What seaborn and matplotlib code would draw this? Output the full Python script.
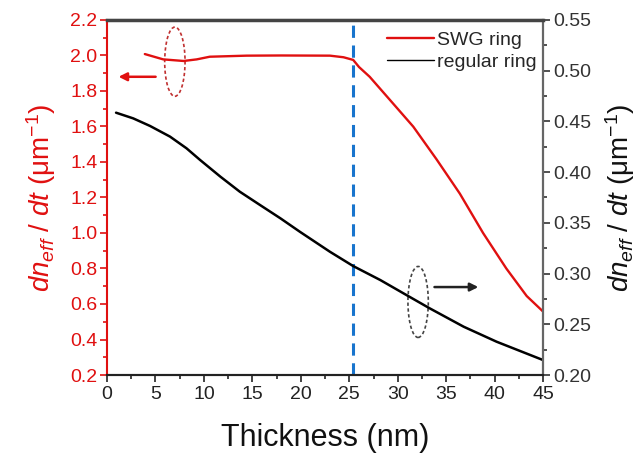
import numpy as np
import pandas as pd
import matplotlib
matplotlib.use("Agg")
import matplotlib.pyplot as plt
import seaborn as sns
from matplotlib.patches import Ellipse
from matplotlib.ticker import MultipleLocator, FormatStrFormatter

sns.set_theme(style="white")
plt.rcParams['font.family'] = ['Liberation Sans', 'DejaVu Sans']
plt.rcParams['mathtext.fontset'] = 'custom'
plt.rcParams['mathtext.rm'] = 'Liberation Sans'
plt.rcParams['mathtext.it'] = 'Liberation Sans:italic'

# SWG ring (left axis)
swg_x = [3.9, 5.8, 7.9, 9.25, 10.6, 14.4, 18.0, 23.0, 24.4, 25.4, 26.0, 27.1,
         29.2, 31.6, 34.0, 36.4, 38.8, 41.2, 43.3, 45.0]
swg_y = [2.008, 1.978, 1.969, 1.978, 1.993, 1.999, 2.0, 1.999, 1.99, 1.975, 1.935, 1.88,
         1.749, 1.599, 1.415, 1.222, 1.0, 0.80, 0.645, 0.557]
# regular ring (right axis)
reg_x = [0.93, 2.7, 4.44, 6.5, 8.2, 9.6, 11.7, 13.7, 15.8, 17.9, 19.9, 23.0,
         25.4, 28.2, 30.9, 33.3, 36.8, 40.2, 43.7, 45.0]
reg_y = [0.4586, 0.453, 0.4455, 0.435, 0.4235, 0.412, 0.3955, 0.3807, 0.3675, 0.3544,
         0.3412, 0.3215, 0.3074, 0.2936, 0.2788, 0.2657, 0.2476, 0.2328, 0.2196, 0.2147]

red = '#e01010'
fig = plt.figure(figsize=(6.39, 4.54), dpi=100)
ax = fig.add_axes([0.1675, 0.174, 0.6825, 0.782])
ax2 = ax.twinx()

df1 = pd.DataFrame({'x': swg_x, 'y': swg_y})
df2 = pd.DataFrame({'x': reg_x, 'y': reg_y})
sns.lineplot(data=df1, x='x', y='y', ax=ax, color=red, lw=1.7, label='SWG ring', legend=False)
sns.lineplot(data=df2, x='x', y='y', ax=ax2, color='black', lw=1.8, label='regular ring', legend=False)

ax.set_xlim(0, 45)
ax.set_ylim(0.2, 2.2)
ax2.set_ylim(0.20, 0.55)
ax.xaxis.set_major_locator(MultipleLocator(5))
ax.xaxis.set_minor_locator(MultipleLocator(2.5))
ax.yaxis.set_major_locator(MultipleLocator(0.2))
ax.yaxis.set_minor_locator(MultipleLocator(0.1))
ax2.yaxis.set_major_locator(MultipleLocator(0.05))
ax2.yaxis.set_minor_locator(MultipleLocator(0.025))
ax.yaxis.set_major_formatter(FormatStrFormatter('%.1f'))
ax2.yaxis.set_major_formatter(FormatStrFormatter('%.2f'))

ax.axvline(25.4, color='#1874cd', ls=(0, (4, 2.5)), lw=2.2)

for a in (ax, ax2):
    for s in a.spines.values():
        s.set_linewidth(1.5)
ax.spines['left'].set_color(red)
ax2.spines['left'].set_visible(False)
ax.spines['bottom'].set_color('#222222')
ax2.spines['bottom'].set_color('#222222')
ax.spines['top'].set_color('#444444')
ax2.spines['top'].set_color('#444444')
ax2.spines['top'].set_linewidth(2.5)
ax2.spines['right'].set_color('#666666')

ax.tick_params(axis='x', which='both', direction='out', bottom=True, top=False,
               labelsize=14, colors='#222222', length=5, width=1.2, pad=3)
ax.tick_params(axis='x', which='minor', length=3)
ax.tick_params(axis='y', which='both', direction='out', left=True, labelsize=14,
               colors=red, length=5, width=1.2, pad=2)
ax.tick_params(axis='y', which='minor', length=3)
ax2.tick_params(axis='y', which='both', direction='out', right=True, labelsize=14,
                colors='#333333', length=5, width=1.2, pad=2)
ax2.tick_params(axis='y', which='minor', length=3)

ylab = r'$dn_{eff}$ / $dt$ (μm$^{-1}$)'
ax.set_xlabel('Thickness (nm)', fontsize=22, color='#111111', labelpad=14)
ax.set_ylabel(ylab, fontsize=20, color=red, labelpad=9)
ax2.set_ylabel(ylab, fontsize=20, color='#111111', labelpad=9)

# annotations
ax.add_patch(Ellipse((7.0, 1.965), 2.1, 0.39, fill=False, ls=(0, (2, 1.5)), ec='#c03030', lw=1.2))
ax.annotate('', xy=(0.9, 1.88), xytext=(5.3, 1.88),
            arrowprops=dict(arrowstyle='-|>', color=red, lw=1.8, mutation_scale=12))
ax2.add_patch(Ellipse((32.1, 0.272), 2.1, 0.07, fill=False, ls=(0, (2, 1.5)), ec='#444444', lw=1.2))
ax2.annotate('', xy=(38.6, 0.2867), xytext=(33.5, 0.2867),
             arrowprops=dict(arrowstyle='-|>', color='#222222', lw=1.8, mutation_scale=12))

h1, l1 = ax.get_legend_handles_labels()
h2, l2 = ax2.get_legend_handles_labels()
leg = ax2.legend(h1 + h2, l1 + l2, loc='upper right', frameon=False, fontsize=14,
                 handlelength=2.4, handletextpad=0.2, labelspacing=0.25,
                 borderaxespad=0.0, borderpad=0.2, bbox_to_anchor=(0.995, 0.98))
leg.get_lines()[1].set_linewidth(1.0)

fig.savefig('out.png', dpi=100)
